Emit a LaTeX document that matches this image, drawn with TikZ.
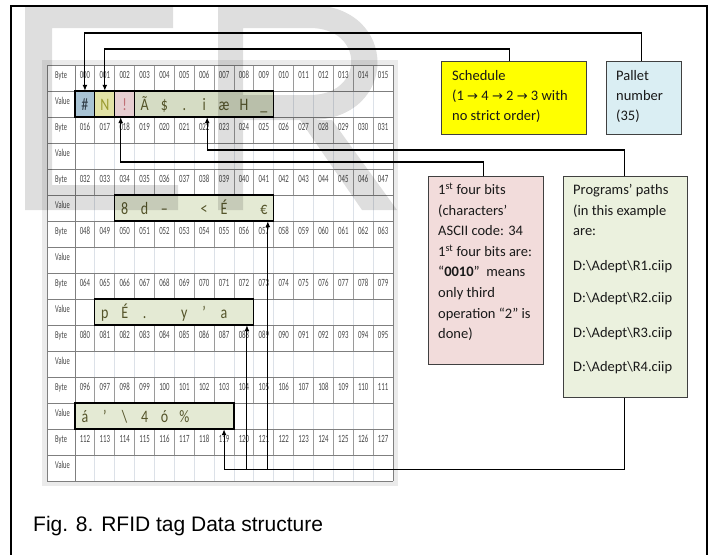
\documentclass[tikz,border=0pt]{standalone}
\usepackage{fontspec}
\setmainfont{Carlito}
\newfontfamily\boxfont{Carlito}
\newfontfamily\narrowfont[FakeStretch=0.62]{Carlito}
\newfontfamily\valfont[FakeStretch=0.8]{Carlito}
\newfontfamily\symfont{DejaVu Sans}
\newfontfamily\capfont{Liberation Sans}
\usetikzlibrary{arrows.meta}

\definecolor{tblshade}{HTML}{EBEBEB}
\definecolor{gridhard}{HTML}{7F7F7F}
\definecolor{gridbyte}{HTML}{9A9A9A}
\definecolor{gridval}{HTML}{DCE1E8}
\definecolor{numgray}{HTML}{464646}
\definecolor{hashfill}{HTML}{A8C3D4}
\definecolor{nfill}{HTML}{E2E2A6}
\definecolor{bangfill}{HTML}{E6CED1}
\definecolor{grpdark}{HTML}{D5DCC4}
\definecolor{grplight}{HTML}{E4EAD4}
\definecolor{valink}{HTML}{55552A}
\definecolor{hashink}{HTML}{2E3A44}
\definecolor{nink}{HTML}{9A9A30}
\definecolor{bangink}{HTML}{C06F75}
\definecolor{schedfill}{HTML}{FFFF00}
\definecolor{palletfill}{HTML}{DAEEF3}
\definecolor{pinkfill}{HTML}{F2DCDB}
\definecolor{greenfill}{HTML}{EBF1DE}
\definecolor{boxline}{HTML}{404040}

% zero-padded byte index
\newcommand\threedig[1]{\ifnum#1<10 00\else\ifnum#1<100 0\fi\fi#1}
\newcommand\rarr{{\symfont\fontsize{13}{13}\selectfont→}}

\begin{document}
\begin{tikzpicture}[x=1pt,y=-1pt,
  hline/.style={draw=gridhard, line width=1pt},
  bline/.style={draw=gridbyte, line width=0.8pt},
  vline/.style={draw=gridval, line width=0.8pt},
  lbl/.style={font=\narrowfont\fontsize{10.5}{10.5}\selectfont, text=numgray, inner sep=0, anchor=base west},
  num/.style={font=\narrowfont\fontsize{11}{11}\selectfont, text=numgray, inner sep=0, anchor=base},
  valtxt/.style={font=\valfont\fontsize{17.5}{17.5}\selectfont, text=valink, inner sep=0,
    minimum width=19.875pt, minimum height=26pt, text height=14pt, text depth=2pt},
  grpborder/.style={draw=black, line width=1.2pt},
  infobox/.style={draw=boxline, line width=1.1pt, inner sep=0, anchor=north west},
  boxtxt/.style={font=\boxfont\fontsize{14.5}{20}\selectfont, text=black!90, inner sep=0, anchor=base west},
  conn/.style={draw=black, line width=1.1pt},
  arr/.style={conn, -{Latex[length=6pt,width=5pt]}},
  wmark/.style={fill=black, fill opacity=0.13}]

\useasboundingbox (0,0) rectangle (717,554);
\fill[white] (0,0) rectangle (717,554);

% ---- byte table ----
\fill[tblshade] (42,60) rectangle (398,486);
\fill[white] (47,65) rectangle (393,481);
\foreach \r in {0,2,...,14}
  \foreach \c in {1,...,15}
    \draw[bline] (75+19.875*\c,65+26*\r) -- ++(0,26);
\foreach \r in {1,3,...,15}
  \foreach \c in {1,...,15}
    \draw[vline] (75+19.875*\c,65+26*\r) -- ++(0,26);
\foreach \k in {0,...,16}
  \draw[hline] (47,65+26*\k) -- (393,65+26*\k);
\draw[hline] (47,65) -- (47,481) (75,65) -- (75,481) (393,65) -- (393,481);

% highlighted value cells
\fill[hashfill] (75,91) rectangle (94.875,117);
\fill[nfill] (94.875,91) rectangle (114.75,117);
\fill[bangfill] (114.75,91) rectangle (134.625,117);
\fill[grpdark] (134.625,91) rectangle (273.75,117);
\draw[grpborder] (75,91) rectangle (273.75,117);
\draw[grpborder] (94.875,91) -- (94.875,117) (114.75,91) -- (114.75,117) (134.625,91) -- (134.625,117);

\fill[grplight] (114.75,195) rectangle (273.75,221);
\draw[grpborder] (114.75,195) rectangle (273.75,221);
\fill[grplight] (94.875,299) rectangle (253.875,325);
\draw[grpborder] (94.875,299) rectangle (253.875,325);
\fill[grplight] (75,403) rectangle (234,429);
\draw[grpborder] (75,403) rectangle (234,429);

% row and byte labels
\foreach \r in {0,...,7} {
  \node[lbl, name=lb\r] at (55,65+52*\r+13.5) {Byte};
  \node[lbl, name=lv\r] at (55,65+52*\r+39.5) {Value};
  \foreach \c in {0,...,15} {
    \pgfmathtruncatemacro\n{16*\r+\c}
    \node[num, name=n\n] at (75+19.875*\c+9.94,65+52*\r+13.5) {\threedig\n};
  }
}

% stored characters
\node[valtxt, text=hashink, name=v1c0] at (84.94,104) {\#};
\node[valtxt, text=nink, name=v1c1] at (104.81,104) {N};
\node[valtxt, text=bangink, name=v1c2] at (124.69,104) {!};
\foreach \ch [count=\i from 3] in {Ã,\$,.,i,æ,H,\_}
  \node[valtxt, name=v1c\i] at (75+19.875*\i+9.94,104) {\ch};
\foreach \ch [count=\i from 2] in {8,d,–,{},<,É,{},€}
  \node[valtxt, name=v5c\i] at (75+19.875*\i+9.94,208) {\ch};
\foreach \ch [count=\i from 1] in {p,É,.,{},y,’,a,{}}
  \node[valtxt, name=v9c\i] at (75+19.875*\i+9.94,312) {\ch};
\foreach \ch [count=\i from 0] in {á,’,\textbackslash,4,ó,\%,{},{}}
  \node[valtxt, name=v13c\i] at (75+19.875*\i+9.94,416) {\ch};

% faint lettering across the upper part
\fill[wmark]
  (25,5) -- (173,5) -- (173,28) -- (52,28) -- (52,185) -- (178,185) -- (178,210) -- (25,210) -- cycle
  (218,5) rectangle (243,210)
  (243,5) -- (310,5) .. controls (400,5) and (400,120) .. (310,120) -- (243,120) -- (243,95)
     -- (310,95) .. controls (365,95) and (365,28) .. (310,28) -- (243,28) -- cycle
  (300,120) -- (332,120) -- (397,210) -- (362,210) -- cycle;

% ---- description boxes ----
\node[infobox, fill=schedfill, minimum width=145pt, minimum height=73pt, name=sched] at (441,61) {};
\node[infobox, fill=palletfill, minimum width=75pt, minimum height=73pt, name=pallet] at (606,61) {};
\node[infobox, fill=pinkfill, minimum width=115pt, minimum height=188pt, name=pink] at (428,176) {};
\node[infobox, fill=greenfill, minimum width=124pt, minimum height=221pt, name=green] at (563,176) {};

\foreach \t [count=\i from 0] in {Schedule,{(1 \rarr{} 4 \rarr{} 2 \rarr{} 3 with},{no strict order)}}
  \node[boxtxt, name=schedL\i] at (452,80+20*\i) {\t};
\foreach \t [count=\i from 0] in {Pallet,number,{(35)}}
  \node[boxtxt, name=palletL\i] at (616,80+20*\i) {\t};
\foreach \t [count=\i from 0] in {{1\textsuperscript{st} four bits},{(characters’},{ASCII code: 34},
    {1\textsuperscript{st} four bits are:},{“\textbf{0010}”\ \ means},{only third},{operation “2” is},{done)}}
  \node[boxtxt, name=pinkL\i] at (438,194.5+20.6*\i) {\t};
\foreach \t [count=\i from 0] in {{Programs’ paths},{(in this example},{are:}}
  \node[boxtxt, name=greenL\i] at (573,194.5+20.6*\i) {\t};
\foreach \t/\yb [count=\i from 1] in {R1/270.5,R2/302.8,R3/337.2,R4/371.2}
  \node[boxtxt, name=path\i] at (573,\yb) {D:\textbackslash Adept\textbackslash \t.ciip};

% ---- connectors ----
\draw[arr] ([xshift=-3pt]pallet.north) -- ++(0,-28) -| (v1c0.north);
\draw[arr] ([xshift=-4.5pt]sched.north) -- ++(0,-12) -| (v1c1.north);
\draw[arr] ([xshift=-2.5pt]pink.north) -- ++(0,-14) -| ([xshift=-4pt]v1c2.south);
\draw[arr] ([xshift=-1pt]green.north) -- ++(0,-26) -| ([xshift=3pt]v1c6.south);
\path ([xshift=-1pt]green.south) ++(0,71) coordinate (bus);
\coordinate (t9) at ([xshift=3pt]v9c8.south);
\coordinate (t5) at ([xshift=4pt]v5c9.south);
\draw[arr] ([xshift=-1pt]green.south) -- (bus) -| (v13c7.south);
\draw[arr] (bus -| t9) -- (t9);
\draw[arr] (bus -| t5) -- (t5);

% ---- caption and frame ----
\node[font=\capfont\fontsize{21}{21}\selectfont, anchor=base west, inner sep=0, name=caption]
  at (33,531) {Fig. 8. RFID tag Data structure};
\draw[line width=2pt] (11,560) -- (11,6) -- (707,6) -- (707,560);
\end{tikzpicture}
\end{document}
